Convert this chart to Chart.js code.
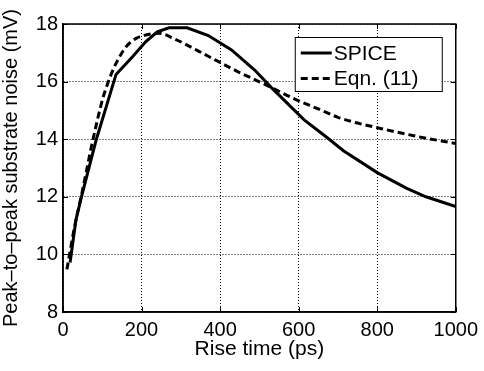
<!DOCTYPE html>
<html>
<head>
<meta charset="utf-8">
<script src="https://cdn.jsdelivr.net/npm/chart.js@4/dist/chart.umd.min.js"></script>
<style>
  html, body { margin: 0; padding: 0; background: #fff; }
  #c { display: block; }
</style>
</head>
<body>
<canvas id="c" width="484" height="371"></canvas>
<script>
// ---- data ----
const spiceRiseTime = [18, 33, 47, 85, 135, 177, 211, 240, 270, 316, 370, 429, 488, 530, 614, 673, 714, 800, 874, 924, 1000];
const spiceNoise    = [9.72, 11.2, 12.0, 14.0, 16.25, 16.86, 17.39, 17.73, 17.87, 17.87, 17.6, 17.1, 16.4, 15.8, 14.67, 14.05, 13.6, 12.84, 12.3, 12.0, 11.66];

const eqnRiseTime = [10, 30, 47, 76, 101, 114, 127, 144, 160, 186, 211, 244, 286, 345, 395, 446, 496, 530, 589, 650, 700, 750, 800, 900, 1000];
const eqnNoise    = [9.48, 11.0, 12.05, 13.97, 15.4, 15.94, 16.4, 16.86, 17.2, 17.5, 17.62, 17.68, 17.47, 17.06, 16.7, 16.34, 16.02, 15.8, 15.4, 15.05, 14.76, 14.56, 14.4, 14.1, 13.85];

const seriesLabels = ['SPICE', 'Eqn. (11)'];
const xTicks = [0, 200, 400, 600, 800, 1000];
const yTicks = [8, 10, 12, 14, 16, 18];
const xTitle = 'Rise time (ps)';
const yTitle = 'Peak–to–peak substrate noise (mV)';

const FONT = '"Liberation Sans", Arial, Helvetica, sans-serif';

const toPoints = (xs, ys) => xs.map((x, i) => ({ x: x, y: ys[i] }));

// frame + inner tick marks (MATLAB style box)
const framePlugin = {
  id: 'frame',
  afterDatasetsDraw(chart) {
    const { ctx, chartArea: ca, scales } = chart;
    ctx.save();
    ctx.strokeStyle = '#000';
    ctx.lineWidth = 1;
    ctx.setLineDash([]);
    ctx.beginPath();
    const tl = 5;
    xTicks.forEach(v => {
      const px = Math.round(scales.x.getPixelForValue(v)) + 0.5;
      ctx.moveTo(px, ca.bottom); ctx.lineTo(px, ca.bottom - tl);
      ctx.moveTo(px, ca.top); ctx.lineTo(px, ca.top + tl);
    });
    yTicks.forEach(v => {
      const py = Math.round(scales.y.getPixelForValue(v)) + 0.5;
      ctx.moveTo(ca.left, py); ctx.lineTo(ca.left + tl, py);
      ctx.moveTo(ca.right, py); ctx.lineTo(ca.right - tl, py);
    });
    ctx.stroke();
    ctx.lineWidth = 1.5;
    ctx.strokeRect(ca.left, ca.top, ca.right - ca.left, ca.bottom - ca.top);
    ctx.restore();
  }
};

// legend box inside plot (upper right)
const boxLegend = {
  id: 'boxLegend',
  afterDraw(chart) {
    const { ctx, chartArea: ca } = chart;
    const left = ca.right - 161, top = ca.top + 13, w = 147, h = 54;
    ctx.save();
    ctx.fillStyle = '#fff';
    ctx.fillRect(left, top, w, h);
    ctx.strokeStyle = '#000';
    ctx.lineWidth = 1;
    ctx.setLineDash([]);
    ctx.strokeRect(left + 0.5, top + 0.5, w, h);
    const rows = [top + 16, top + 41.5];
    chart.data.datasets.forEach((ds, i) => {
      const y = rows[i];
      ctx.strokeStyle = ds.borderColor;
      ctx.lineWidth = ds.borderWidth;
      ctx.setLineDash(ds.borderDash || []);
      ctx.beginPath();
      ctx.moveTo(left + 6, y);
      ctx.lineTo(left + 37, y);
      ctx.stroke();
      ctx.setLineDash([]);
      ctx.fillStyle = '#000';
      ctx.font = '21px ' + FONT;
      ctx.textAlign = 'left';
      ctx.textBaseline = 'middle';
      ctx.fillText(ds.label, left + 39, y + 1);
    });
    ctx.restore();
  }
};

new Chart(document.getElementById('c'), {
  type: 'line',
  data: {
    datasets: [
      {
        label: seriesLabels[0],
        data: toPoints(spiceRiseTime, spiceNoise),
        borderColor: '#000',
        borderWidth: 3,
        pointRadius: 0,
        fill: false,
        tension: 0
      },
      {
        label: seriesLabels[1],
        data: toPoints(eqnRiseTime, eqnNoise),
        borderColor: '#000',
        borderWidth: 3,
        borderDash: [7, 4],
        pointRadius: 0,
        fill: false,
        cubicInterpolationMode: 'monotone'
      }
    ]
  },
  options: {
    responsive: false,
    animation: false,
    devicePixelRatio: 1,
    layout: { padding: { top: 24, right: 24, left: 0, bottom: 0 } },
    plugins: { legend: { display: false }, tooltip: { enabled: false } },
    scales: {
      x: {
        type: 'linear',
        min: 0, max: 1000,
        afterBuildTicks: s => { s.ticks = xTicks.map(v => ({ value: v })); },
        afterFit: s => { s.height = 59; },
        grid: { color: '#000', lineWidth: 1, drawTicks: false },
        border: { display: true, color: '#000', width: 1.5, dash: [1, 2] },
        ticks: { color: '#000', font: { family: FONT, size: 20 }, padding: 6, maxRotation: 0, autoSkip: false, callback: v => String(v) },
        title: { display: true, text: xTitle, color: '#000', font: { family: FONT, size: 21, lineHeight: 1.1 }, padding: { top: 0, bottom: 10 } }
      },
      y: {
        type: 'linear',
        min: 8, max: 18,
        afterBuildTicks: s => { s.ticks = yTicks.map(v => ({ value: v })); },
        afterFit: s => { s.width = 63; },
        grid: { color: '#000', lineWidth: 1, drawTicks: false },
        border: { display: true, color: '#000', width: 1.5, dash: [1, 2] },
        ticks: { color: '#000', font: { family: FONT, size: 20 }, padding: 5, autoSkip: false, callback: v => String(v) },
        title: { display: true, text: yTitle, color: '#000', font: { family: FONT, size: 20, lineHeight: 1.1 }, padding: { top: 0, bottom: 0 } }
      }
    }
  },
  plugins: [framePlugin, boxLegend]
});
</script>
</body>
</html>
